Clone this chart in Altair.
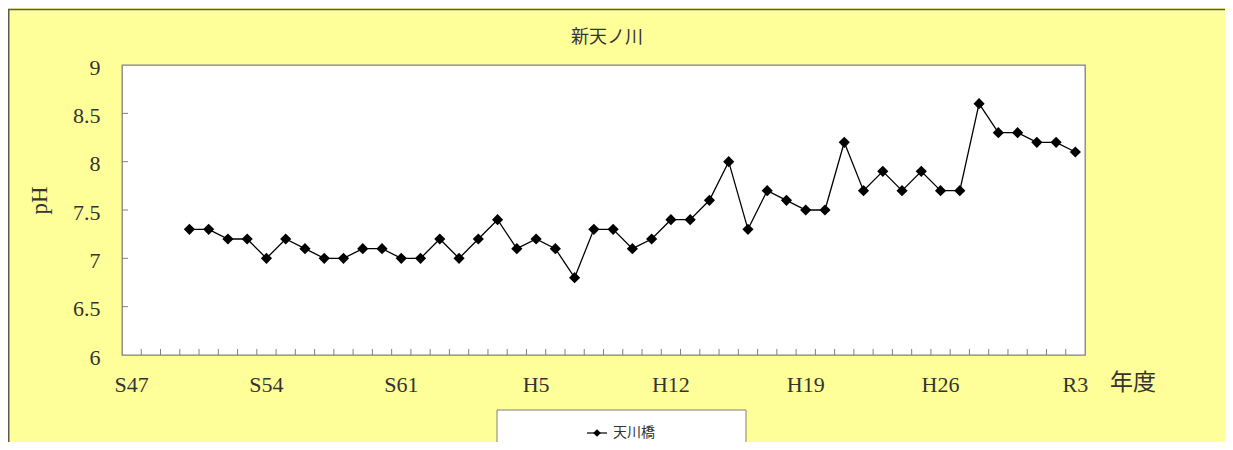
import altair as alt
import pandas as pd

# ---- data ----
era_labels = [
    "S47", "S48", "S49", "S50", "S51", "S52", "S53", "S54", "S55", "S56",
    "S57", "S58", "S59", "S60", "S61", "S62", "S63",
    "H1", "H2", "H3", "H4", "H5", "H6", "H7", "H8", "H9", "H10",
    "H11", "H12", "H13", "H14", "H15", "H16", "H17", "H18", "H19", "H20",
    "H21", "H22", "H23", "H24", "H25", "H26", "H27", "H28", "H29", "H30",
    "R1", "R2", "R3",
]
shown_labels = ["S47", "S54", "S61", "H5", "H12", "H19", "H26", "R3"]
years = [
    "S50", "S51", "S52", "S53", "S54", "S55", "S56", "S57", "S58", "S59",
    "S60", "S61", "S62", "S63", "H1", "H2", "H3", "H4", "H5", "H6",
    "H7", "H8", "H9", "H10", "H11", "H12", "H13", "H14", "H15", "H16",
    "H17", "H18", "H19", "H20", "H21", "H22", "H23", "H24", "H25", "H26",
    "H27", "H28", "H29", "H30", "R1", "R2", "R3",
]
ph_values = [
    7.3, 7.3, 7.2, 7.2, 7.0, 7.2, 7.1, 7.0, 7.0, 7.1,
    7.1, 7.0, 7.0, 7.2, 7.0, 7.2, 7.4, 7.1, 7.2, 7.1,
    6.8, 7.3, 7.3, 7.1, 7.2, 7.4, 7.4, 7.6, 8.0, 7.3,
    7.7, 7.6, 7.5, 7.5, 8.2, 7.7, 7.9, 7.7, 7.9, 7.7,
    7.7, 8.6, 8.3, 8.3, 8.2, 8.2, 8.1,
]
y_ticks = [6, 6.5, 7, 7.5, 8, 8.5, 9]
series_name = "天川橋"
subtitle = "新天ノ川"
x_title = "年度"
y_title = "pH"

# ---- tables ----
df = pd.DataFrame({"year": years, "pH": ph_values, "idx": list(range(len(years)))})
tick_x_df = pd.DataFrame({"year": era_labels[1:]})
label_x_df = pd.DataFrame({"year": shown_labels})
tick_y_df = pd.DataFrame({"pH": y_ticks[1:-1]})
legend_df = pd.DataFrame({"series": [series_name]})
one = pd.DataFrame({"a": [0]})

W, H = 963, 290
SERIF = "Liberation Serif"
CJK = "Noto Sans CJK JP"
TXT = "#333333"

xscale = alt.Scale(type="band", domain=era_labels, paddingInner=0, paddingOuter=0)
yscale = alt.Scale(domain=[6, 9], nice=False, zero=False)

xaxis = alt.Axis(labels=False, ticks=False, domain=False, grid=False, title=None)
yaxis = alt.Axis(
    values=y_ticks, format=".1~f", ticks=False, domain=False, grid=False,
    labelPadding=22, labelBaseline="middle", labelOffset=2, labelFont=SERIF,
    labelFontSize=22, labelColor=TXT,
    labelOverlap=False, labelFlush=False, labelBound=False,
    title=y_title, titleFont=SERIF, titleFontSize=23, titleFontWeight="normal",
    titleColor=TXT, titleAngle=270, titleX=-83, titleY=135,
    titleAlign="center", titleBaseline="middle",
)

line = alt.Chart(df).mark_line(color="black", strokeWidth=1.3).encode(
    x=alt.X("year:N", bandPosition=0.5, scale=xscale, axis=xaxis),
    y=alt.Y("pH:Q", scale=yscale, axis=yaxis),
    order=alt.Order("idx:Q"),
)
points = alt.Chart(df).mark_point(
    shape="diamond", filled=True, size=125, color="black", opacity=1
).encode(
    x=alt.X("year:N", bandPosition=0.5, scale=xscale, axis=xaxis),
    y=alt.Y("pH:Q", scale=yscale, axis=yaxis),
)

xticks = alt.Chart(tick_x_df).mark_rule(color="#808080", strokeWidth=1).encode(
    x=alt.X("year:N", bandPosition=0, scale=xscale, axis=xaxis),
    y=alt.value(H),
    y2=alt.value(H - 6),
)
xlabels = alt.Chart(label_x_df).mark_text(
    font=SERIF, fontSize=22, color=TXT, align="center", baseline="alphabetic"
).encode(
    x=alt.X("year:N", bandPosition=0.5, scale=xscale, axis=xaxis),
    y=alt.value(H + 37),
    text="year:N",
)
yticks = alt.Chart(tick_y_df).mark_rule(color="#808080", strokeWidth=1).encode(
    y=alt.Y("pH:Q", scale=yscale, axis=yaxis),
    x=alt.value(0),
    x2=alt.value(6),
)

# panel border (yellow chart area frame)
top_border = alt.Chart(one).mark_rule(color="#5b5b4b", strokeWidth=1.5).encode(
    x=alt.value(-114), x2=alt.value(1103), y=alt.value(-55.5)
)
left_border = alt.Chart(one).mark_rule(color="#5b5b4b", strokeWidth=1.5).encode(
    x=alt.value(-113.25), y=alt.value(-56), y2=alt.value(380)
)

sub = alt.Chart(one).mark_text(
    font=CJK, fontSize=18, color=TXT, align="center", baseline="middle"
).encode(x=alt.value(485), y=alt.value(-27), text=alt.value(subtitle))

xlab = alt.Chart(one).mark_text(
    font=CJK, fontSize=23, color=TXT, align="center", baseline="middle"
).encode(x=alt.value(1011), y=alt.value(318), text=alt.value(x_title))

legend_box = alt.Chart(one).mark_rect(
    fill="white", stroke="#808080", strokeWidth=1
).encode(x=alt.value(375), x2=alt.value(624), y=alt.value(345), y2=alt.value(400))
legend_line = alt.Chart(one).mark_rule(color="black", strokeWidth=1.2).encode(
    x=alt.value(465), x2=alt.value(485), y=alt.value(368)
)
legend_pt = alt.Chart(one).mark_point(
    shape="diamond", filled=True, size=60, color="black", opacity=1
).encode(x=alt.value(475), y=alt.value(368))
legend_txt = alt.Chart(legend_df).mark_text(
    font=CJK, fontSize=14, color=TXT, align="left", baseline="middle"
).encode(x=alt.value(491), y=alt.value(368), text="series:N")

chart = alt.layer(
    top_border, left_border, sub, xlab,
    xticks, xlabels, yticks, line, points,
    legend_box, legend_line, legend_pt, legend_txt,
).properties(
    width=W, height=H,
    autosize=alt.AutoSizeParams(type="none"),
    padding={"left": 114, "top": 57, "right": 140, "bottom": 87},
).configure(
    background="#FFFF99",
).configure_view(
    fill="white", stroke="#808080", strokeWidth=1.3,
)

chart.save("out.html", embed_options={"renderer": "svg", "actions": False})
